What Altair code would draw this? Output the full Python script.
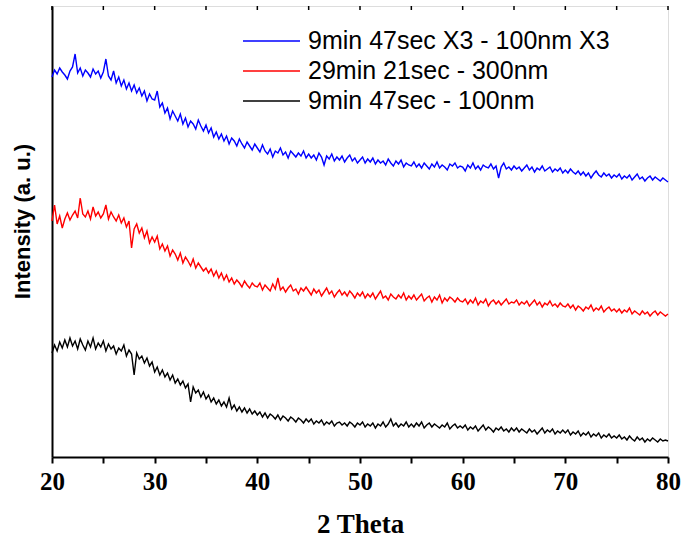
import altair as alt
import pandas as pd

# 2-theta sampling: 20 to 80 degrees in 0.25 degree steps
theta_start = 20.0
theta_step = 0.25

series_names = [
    "9min 47sec X3 - 100nm X3",
    "29min 21sec - 300nm",
    "9min 47sec - 100nm",
]
series_colors = ["#0000ff", "#ff0000", "#000000"]

# intensity (a.u., offset for display), one row per 5 degrees
blue_counts = [
    380, 387, 383, 389, 385, 382, 378, 386, 390, 403, 384, 389, 381, 387, 384, 380, 388, 383, 386, 379,
    385, 398, 381, 377, 386, 374, 380, 371, 377, 368, 374, 366, 372, 364, 369, 361, 366, 356, 363, 358,
    357, 366, 350, 354, 344, 349, 338, 346, 341, 336, 343, 333, 339, 330, 336, 333, 328, 337, 331, 326,
    332, 324, 329, 320, 325, 318, 323, 316, 321, 313, 319, 316, 311, 318, 313, 309, 315, 311, 307, 313,
    309, 305, 312, 306, 303, 308, 300, 306, 304, 309, 302, 305, 299, 306, 303, 300, 304, 301, 306, 299,
    303, 299, 302, 297, 304, 300, 292, 301, 298, 303, 296, 300, 297, 301, 295, 299, 302, 296, 299, 294,
    297, 300, 294, 298, 295, 299, 293, 297, 294, 296, 292, 298, 294, 291, 296, 293, 297, 290, 294, 292,
    291, 295, 290, 293, 289, 294, 291, 288, 293, 290, 295, 289, 292, 290, 287, 293, 291, 294, 289, 291,
    290, 286, 292, 289, 294, 288, 291, 287, 292, 290, 289, 293, 288, 291, 279, 290, 294, 288, 290, 287,
    291, 288, 290, 286, 289, 292, 287, 290, 285, 289, 287, 291, 286, 288, 290, 285, 288, 286, 289, 284,
    287, 284, 288, 285, 283, 286, 282, 285, 281, 284, 279, 283, 286, 282, 280, 284, 281, 283, 279, 282,
    280, 283, 278, 281, 279, 282, 277, 280, 283, 278, 280, 276, 279, 281, 277, 280, 278, 276, 279, 277,
    275,
]

red_counts = [
    236, 252, 233, 241, 229, 238, 244, 237, 242, 246, 239, 259, 243, 240, 246, 238, 250, 241, 245, 239,
    243, 252, 238, 245, 240, 236, 242, 234, 239, 230, 236, 209, 228, 233, 224, 229, 219, 226, 214, 220,
    215, 221, 208, 213, 206, 211, 201, 207, 203, 197, 204, 194, 200, 196, 191, 198, 189, 194, 190, 186,
    189, 184, 188, 181, 186, 179, 184, 177, 182, 175, 179, 173, 177, 174, 170, 176, 172, 169, 174, 171,
    170, 174, 167, 172, 169, 166, 173, 168, 179, 167, 170, 165, 169, 172, 166, 168, 163, 169, 166, 170,
    166, 162, 168, 164, 167, 161, 165, 169, 163, 166, 160, 164, 167, 162, 165, 161, 166, 163, 159, 164,
    161, 165, 159, 163, 160, 164, 158, 162, 166, 159, 161, 157, 163, 160, 158, 162, 159, 164, 157, 161,
    158, 162, 157, 160, 163, 156, 159, 161, 155, 160, 157, 162, 154, 159, 156, 160, 158, 155, 159, 156,
    155, 158, 153, 157, 154, 159, 152, 156, 154, 158, 151, 155, 157, 153, 156, 152, 155, 158, 153, 155,
    154, 157, 152, 155, 153, 156, 151, 154, 157, 152, 155, 150, 154, 152, 156, 151, 153, 150, 154, 151,
    150, 153, 149, 152, 147, 151, 149, 146, 150, 148, 152, 146, 149, 147, 151, 145, 148, 150, 146, 148,
    145, 148, 144, 147, 145, 149, 143, 146, 144, 142, 146, 143, 145, 141, 144, 146, 142, 145, 143, 141,
    143,
]

black_counts = [
    104, 112, 106, 115, 109, 117, 110, 119, 111, 116, 108, 118, 112, 107, 116, 110, 119, 108, 114, 110,
    116, 106, 113, 108, 111, 103, 109, 106, 112, 101, 107, 103, 82, 104, 98, 101, 94, 99, 91, 95,
    85, 90, 82, 87, 80, 84, 77, 82, 74, 78, 72, 76, 69, 73, 55, 70, 64, 67, 60, 65,
    58, 62, 55, 59, 53, 57, 51, 55, 50, 59, 48, 52, 46, 50, 45, 49, 44, 48, 43, 46,
    42, 45, 40, 44, 39, 43, 41, 38, 42, 37, 41, 39, 36, 40, 38, 35, 39, 37, 34, 38,
    35, 38, 33, 36, 34, 37, 32, 35, 33, 36, 31, 34, 35, 32, 34, 31, 35, 33, 30, 34,
    32, 35, 30, 33, 31, 34, 29, 33, 31, 35, 30, 33, 38, 31, 34, 30, 33, 31, 35, 30,
    33, 30, 34, 31, 35, 29, 32, 34, 30, 33, 31, 29, 32, 30, 34, 28, 31, 33, 29, 31,
    29, 32, 27, 30, 28, 31, 26, 29, 32, 27, 30, 28, 25, 29, 27, 30, 26, 28, 25, 29,
    26, 29, 25, 28, 26, 24, 28, 25, 27, 23, 26, 29, 24, 27, 25, 28, 23, 26, 24, 27,
    24, 27, 22, 25, 23, 26, 21, 24, 22, 25, 20, 23, 21, 24, 19, 22, 20, 23, 19, 21,
    19, 22, 18, 20, 17, 21, 18, 16, 20, 17, 19, 15, 18, 16, 19, 17, 15, 18, 16, 17,
    16,
]

x_ticks = [20, 25, 30, 35, 40, 45, 50, 55, 60, 65, 70, 75, 80]

rows = []
for name, counts in zip(series_names, [blue_counts, red_counts, black_counts]):
    for i, c in enumerate(counts):
        rows.append({"theta": theta_start + theta_step * i, "intensity": c, "series": name})
df = pd.DataFrame(rows)

legend_df = pd.DataFrame({"series": series_names, "row": list(range(len(series_names)))})

x_scale = alt.Scale(domain=[20, 80], nice=False, zero=False)
y_scale = alt.Scale(domain=[0, 451], nice=False, zero=False)
color_scale = alt.Scale(domain=series_names, range=series_colors)

lines = alt.Chart(df).mark_line(strokeWidth=1.4).encode(
    x=alt.X(
        "theta:Q",
        scale=x_scale,
        axis=alt.Axis(
            title="2 Theta",
            values=x_ticks,
            labelExpr="datum.value % 10 == 0 ? datum.label : ''",
            grid=False,
            tickSize=6,
            tickWidth=2,
            tickColor="black",
            domainWidth=2,
            domainColor="black",
            labelFont="Liberation Serif",
            labelFontSize=25,
            labelFontWeight="bold",
            labelColor="black",
            labelPadding=6,
            labelFlush=False,
            labelOverlap=False,
            titleFont="Liberation Serif",
            titleFontSize=27,
            titleFontWeight="bold",
            titleColor="black",
            titlePadding=17,
        ),
    ),
    y=alt.Y(
        "intensity:Q",
        scale=y_scale,
        axis=alt.Axis(
            title="Intensity (a. u.)",
            labels=False,
            ticks=False,
            grid=False,
            domainWidth=2,
            domainColor="black",
            titleFont="Liberation Sans",
            titleFontSize=22,
            titleFontWeight="bold",
            titleColor="black",
            titlePadding=18,
            titleY=215,
        ),
    ),
    color=alt.Color("series:N", scale=color_scale, legend=None),
)

# small inward ticks along the top frame
top_ticks = alt.Chart(pd.DataFrame({"t": x_ticks})).mark_rule(
    color="black", strokeWidth=1.5
).encode(
    x=alt.X("t:Q", scale=x_scale),
    y=alt.value(0),
    y2=alt.value(4),
)

# legend block in the upper right of the frame
legend_row_scale = alt.Scale(domain=[0, 2], range=[35, 95])
legend_lines = alt.Chart(legend_df).mark_rule(strokeWidth=1.3).encode(
    x=alt.value(191),
    x2=alt.value(248),
    y=alt.Y("row:Q", scale=legend_row_scale, axis=None),
    color=alt.Color("series:N", scale=color_scale, legend=None),
)
legend_text = alt.Chart(legend_df).mark_text(
    align="left",
    baseline="middle",
    font="Liberation Sans",
    fontSize=25,
    color="black",
).encode(
    x=alt.value(256),
    y=alt.Y("row:Q", scale=legend_row_scale, axis=None),
    text="series:N",
)

chart = (
    alt.layer(lines, top_ticks, legend_lines, legend_text)
    .resolve_scale(y="independent")
    .properties(
        width=616,
        height=451,
        autosize="none",
        padding={"left": 52, "top": 6, "right": 17, "bottom": 90},
    )
    .configure_view(stroke="black", strokeWidth=2)
    .configure(background="white")
)

chart.save("out.html", embed_options={"renderer": "svg", "actions": False})
